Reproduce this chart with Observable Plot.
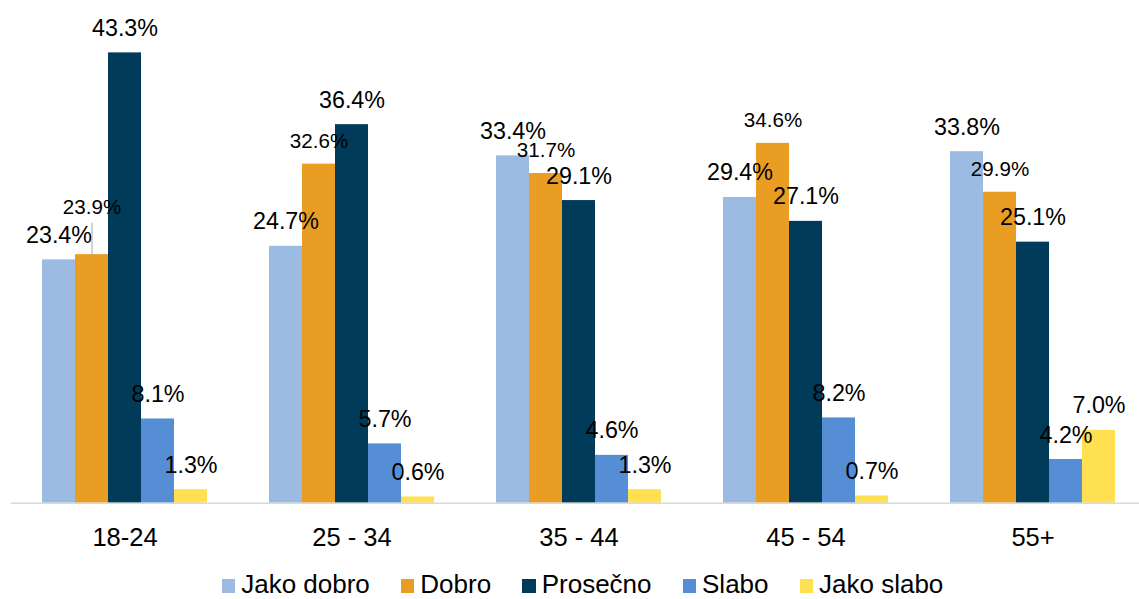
<!DOCTYPE html>
<html>
<head>
<meta charset="utf-8">
<script src="https://cdn.jsdelivr.net/npm/d3@7"></script>
<script src="https://cdn.jsdelivr.net/npm/@observablehq/plot@0.6"></script>
<style>
html, body { margin: 0; padding: 0; background: #fff; overflow: hidden; }
#chart { position: relative; width: 1139px; height: 599px; font-family: Arial, "Liberation Sans", sans-serif; }
#legend { position: absolute; left: 221.7px; top: 570px; font-size: 26px; line-height: 29px; white-space: nowrap; color: #000; }
.item { display: inline-block; margin-right: 31px; }
.sw { display: inline-block; width: 13.5px; height: 14px; margin-right: 6px; vertical-align: baseline; }
</style>
</head>
<body>
<div id="chart"></div>
<script>
// ---- data ----
const groups = ["18-24", "25 - 34", "35 - 44", "45 - 54", "55+"];
const series = ["Jako dobro", "Dobro", "Prosečno", "Slabo", "Jako slabo"];
const jakoDobro = [23.4, 24.7, 33.4, 29.4, 33.8];
const dobro     = [23.9, 32.6, 31.7, 34.6, 29.9];
const prosecno  = [43.3, 36.4, 29.1, 27.1, 25.1];
const slabo     = [8.1, 5.7, 4.6, 8.2, 4.2];
const jakoSlabo = [1.3, 0.6, 1.3, 0.7, 7.0];
const colors = ["#9cbbe3", "#e99d22", "#003c5a", "#558ed5", "#ffe050"];
const leaderLabels = [{group: "18-24", series: "Dobro"}];

// ---- build table ----
const values = [jakoDobro, dobro, prosecno, slabo, jakoSlabo];
const table = groups.flatMap((g, gi) => series.map((s, si) => ({group: g, series: s, value: values[si][gi]})));
const isLeader = d => leaderLabels.some(l => l.group === d.group && l.series === d.series);
const fmt = d => d.value.toFixed(1) + "%";
const leaderShape = { draw(ctx, l) { ctx.moveTo(0, 0); ctx.lineTo(0, -l); } };

const common = {fx: "group", x: "series", y: "value", text: fmt, lineAnchor: "bottom", textAnchor: "middle", fill: "#000"};

const plot = Plot.plot({
  width: 1139,
  height: 570,
  marginTop: 30.7,
  marginBottom: 67.3,
  marginLeft: 10,
  marginRight: 0,
  style: {fontFamily: "Arial, 'Liberation Sans', sans-serif", color: "#000", background: "#fff", overflow: "visible"},
  fx: {domain: groups, range: [10.35, 1147], padding: 0, axis: null},
  x: {domain: series, paddingInner: 0, paddingOuter: 0.909, axis: null},
  y: {domain: [0, 45], range: [502.7, 502.7 - 45 * 10.4], axis: null},
  color: {domain: series, range: colors},
  marks: [
    Plot.barY(table, {fx: "group", x: "series", y: "value", fill: "series"}),
    Plot.ruleY([0], {stroke: "#d9d9d9", strokeWidth: 1.6}),
    Plot.axisFx({anchor: "bottom", tickSize: 0, tickPadding: 24.2, fontSize: 25.5, label: null}),
    Plot.text(table.filter(d => d.series !== "Dobro"), {...common, fontSize: 23.3, dy: -17}),
    Plot.text(table.filter(d => d.series === "Dobro" && !isLeader(d)), {...common, fontSize: 20.6, dy: -16.5}),
    Plot.text(table.filter(isLeader), {...common, fontSize: 20.6, dy: -41}),
    Plot.vector(table.filter(isLeader), {fx: "group", x: "series", y: "value", length: 31.4, rotate: 0, anchor: "start", shape: leaderShape, stroke: "#a6a6a6", strokeWidth: 1})
  ]
});

const chart = document.getElementById("chart");
chart.appendChild(plot);

const legend = document.createElement("div");
legend.id = "legend";
series.forEach((s, i) => {
  const item = document.createElement("span");
  item.className = "item";
  const sw = document.createElement("span");
  sw.className = "sw";
  sw.style.background = colors[i];
  item.appendChild(sw);
  item.appendChild(document.createTextNode(s));
  legend.appendChild(item);
});
chart.appendChild(legend);
</script>
</body>
</html>
